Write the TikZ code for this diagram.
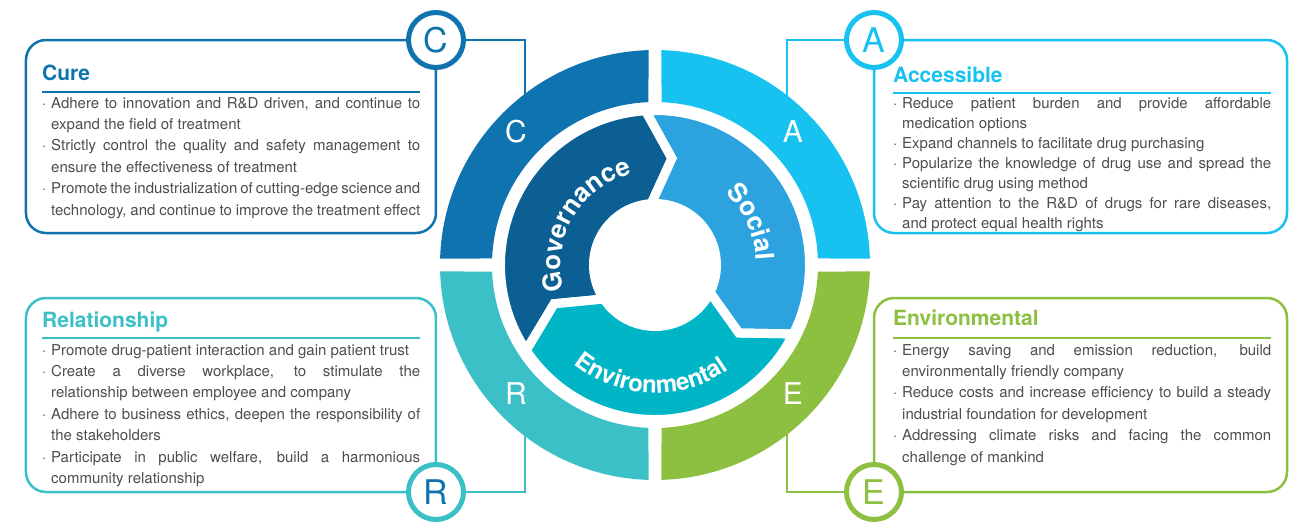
\documentclass[tikz,border=0pt]{standalone}
\usepackage{fontspec}
\setmainfont{TeX Gyre Heros}
\usetikzlibrary{decorations.text,calc}
\definecolor{cureC}{RGB}{14,115,174}
\definecolor{accC}{RGB}{23,193,240}
\definecolor{relC}{RGB}{60,192,200}
\definecolor{envC}{RGB}{141,191,64}
\definecolor{govC}{RGB}{11,95,147}
\definecolor{socC}{RGB}{44,163,222}
\definecolor{envinC}{RGB}{0,182,198}
\definecolor{txtC}{RGB}{77,77,77}
\newcommand{\bodyfont}[1]{\fontsize{15}{#1}\selectfont\parindent=0pt\spaceskip=4.2pt plus 6pt minus 1.7pt\relax}
\newcommand{\bitem}[1]{\hangindent=9pt\hangafter=1\noindent\makebox[9pt][l]{\textperiodcentered}#1\par}

\begin{document}
\begin{tikzpicture}[x=1pt, y=1pt,
  box/.style={draw, rounded corners=20pt, line width=2.5pt, inner sep=0pt, outer sep=0pt},
  badge/.style={circle, draw, fill=white, line width=5pt, minimum size=55pt, inner sep=0pt,
                font=\fontsize{34}{34}\selectfont},
  link/.style={line width=2.5pt},
  ttl/.style={inner sep=0pt, anchor=base west, font=\fontsize{21}{21}\selectfont\bfseries},
  rul/.style={line width=1.2pt},
  body/.style={inner sep=0pt, anchor=base west, text width=378pt, align=justify, text=txtC,
               font=\bodyfont{21.4}},
  ringlet/.style={text=white, font=\fontsize{30}{30}\selectfont},
  seglab/.style={decorate, decoration={text along path, text align=center, text color=white}},
]
\useasboundingbox (-655,-258) rectangle (644,265);

% ---------------- boxes ----------------
\node[box, draw=cureC, minimum width=410, minimum height=193] (boxC) at (-424,128.5) {};
\node[box, draw=accC,  minimum width=413, minimum height=193] (boxA) at (425.5,128.5) {};
\node[box, draw=relC,  minimum width=410, minimum height=194] (boxR) at (-424,-130) {};
\node[box, draw=envC,  minimum width=413, minimum height=194] (boxE) at (425.5,-130) {};

% ---------------- titles and texts ----------------
\node[ttl, text=cureC] (tC) at ([xshift=16,yshift=-40]boxC.north west) {Cure};
\draw[rul, cureC] ([xshift=16,yshift=-52]boxC.north west) -- ++(378,0);
\node[body] (xC) at ([xshift=16,yshift=-68]boxC.north west) {%
  \bitem{Adhere to innovation and R\&D driven, and continue to\linebreak expand the field of treatment}
  \bitem{Strictly control the quality and safety management to\linebreak ensure the effectiveness of treatment}
  \bitem{Promote the industrialization of cutting-edge science and\linebreak technology, and continue to improve the treatment effect}};

\node[ttl, text=accC] (tA) at ([xshift=19,yshift=-42]boxA.north west) {Accessible};
\draw[rul, accC] ([xshift=19,yshift=-53]boxA.north west) -- ++(378,0);
\node[body, font=\bodyfont{20}] (xA) at ([xshift=19,yshift=-68]boxA.north west) {%
  \bitem{Reduce patient burden and provide affordable\linebreak medication options}
  \bitem{Expand channels to facilitate drug purchasing}
  \bitem{Popularize the knowledge of drug use and spread the\linebreak scientific drug using method}
  \bitem{Pay attention to the R\&D of drugs for rare diseases,\linebreak and protect equal health rights}};

\node[ttl, text=relC] (tR) at ([xshift=16,yshift=-29]boxR.north west) {Relationship};
\draw[rul, relC] ([xshift=16,yshift=-40]boxR.north west) -- ++(378,0);
\node[body] (xR) at ([xshift=16,yshift=-57]boxR.north west) {%
  \bitem{Promote drug-patient interaction and gain patient trust}
  \bitem{Create a diverse workplace, to stimulate the\linebreak relationship between employee and company}
  \bitem{Adhere to business ethics, deepen the responsibility of\linebreak the stakeholders}
  \bitem{Participate in public welfare, build a harmonious\linebreak community relationship}};

\node[ttl, text=envC] (tE) at ([xshift=19,yshift=-27]boxE.north west) {Environmental};
\draw[rul, envC] ([xshift=19,yshift=-40]boxE.north west) -- ++(378,0);
\node[body] (xE) at ([xshift=19,yshift=-57]boxE.north west) {%
  \bitem{Energy saving and emission reduction, build\linebreak environmentally friendly company}
  \bitem{Reduce costs and increase efficiency to build a steady\linebreak industrial foundation for development}
  \bitem{Addressing climate risks and facing the common\linebreak challenge of mankind}};

% ---------------- badges and links ----------------
\node[badge, draw=cureC, text=cureC] (bC) at (boxC.north east) {C};
\node[badge, draw=accC,  text=accC]  (bA) at (boxA.north west) {A};
\node[badge, draw=relC,  text=cureC] (bR) at (boxR.south east) {R};
\node[badge, draw=envC,  text=envC]  (bE) at (boxE.south west) {E};

\coordinate (jC) at (-130,165);
\coordinate (jA) at (132,165);
\coordinate (jR) at (-130,-165);
\coordinate (jE) at (132,-165);
\draw[link, cureC] (bC) -| (jC);
\draw[link, accC]  (bA) -| (jA);
\draw[link, relC]  (bR) -| (jR);
\draw[link, envC]  (bE) -| (jE);

% ---------------- outer ring ----------------
\foreach \b/\col in {0/accC,90/cureC,180/relC,270/envC}
  \fill[\col] ({\b+1.73}:215) arc[start angle=\b+1.73, end angle=\b+88.27, radius=215]
    -- ({\b+87.71}:163) arc[start angle=\b+87.71, end angle=\b+2.29, radius=163] -- cycle;

\node[ringlet] (lC) at (-139,133) {C};
\node[ringlet] (lA) at (138,133) {A};
\node[ringlet] (lR) at (-139,-129) {R};
\node[ringlet] (lE) at (138,-129) {E};

% ---------------- inner ring ----------------
\foreach \s/\e/\col in {213.5/93.5/govC, 93.5/-26.5/socC, -26.5/-146.5/envinC}
  \fill[\col] (\s:154.5) arc[start angle=\s, end angle=\e, radius=154.5] -- ({\e-12.5}:108)
    -- (\e:61.5) arc[start angle=\e, end angle=\s, radius=61.5] -- ({\s-12.5}:108) -- cycle;
\foreach \s/\e in {213.5/93.5, 93.5/-26.5, -26.5/-146.5}
  \draw[white, line width=9pt] (\s:154.5) arc[start angle=\s, end angle=\e, radius=154.5] -- ({\e-12.5}:108)
    -- (\e:61.5) arc[start angle=\e, end angle=\s, radius=61.5] -- ({\s-12.5}:108) -- cycle;

\path[seglab, decoration={text={|\fontsize{26}{26}\selectfont\bfseries|Governance}}]
  (210:94) arc[start angle=210, end angle=90, radius=94];
\path[seglab, decoration={text={|\fontsize{26}{26}\selectfont\bfseries|Social}}]
  (84:101) arc[start angle=84, end angle=-36, radius=101];
\path[seglab, decoration={text={|\fontsize{24}{24}\selectfont\bfseries|Environmental}}]
  (198:128) arc[start angle=198, end angle=338, radius=128];

\end{tikzpicture}
\end{document}
